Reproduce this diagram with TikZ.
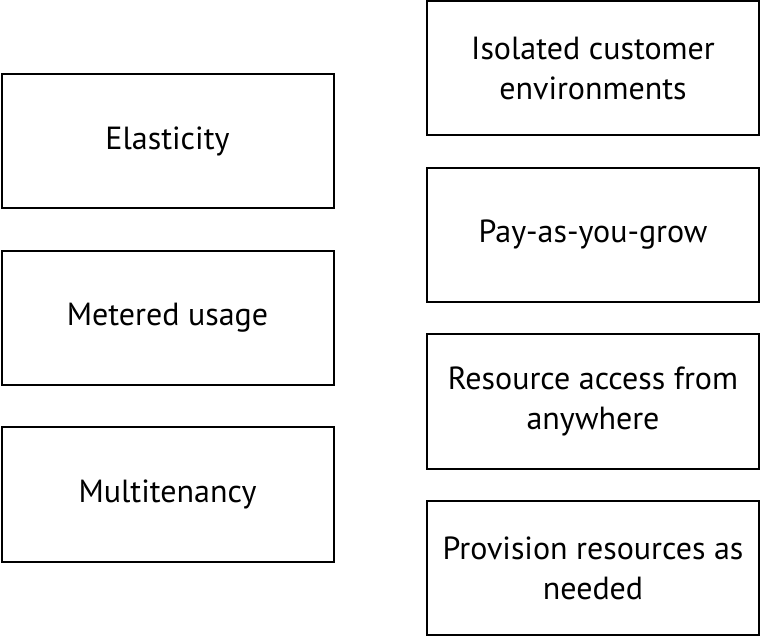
\documentclass[tikz,border=0pt]{standalone}
\usepackage{fontspec}
\setmainfont{PT Sans}
\begin{document}
\begin{tikzpicture}[x=1pt,y=-1pt,
  box/.style={draw=black,line width=2pt,align=center,minimum width=332pt,minimum height=134pt,font=\fontsize{32}{40}\selectfont}]
\useasboundingbox (0,0) rectangle (761,636);
\fill[white] (0,0) rectangle (761,636);
\node[box] (el) at (167.5,141) {Elasticity};
\node[box] (mu) at (167.5,318) {Metered usage};
\node[box] (mt) at (167.5,494.5) {Multitenancy};
\node[box] (ic) at (593,68) {Isolated customer\\environments};
\node[box] (pg) at (593,235) {Pay-as-you-grow};
\node[box] (ra) at (593,401.5) {Resource access from\\anywhere};
\node[box] (pr) at (593,568) {Provision resources as\\needed};
\end{tikzpicture}
\end{document}
